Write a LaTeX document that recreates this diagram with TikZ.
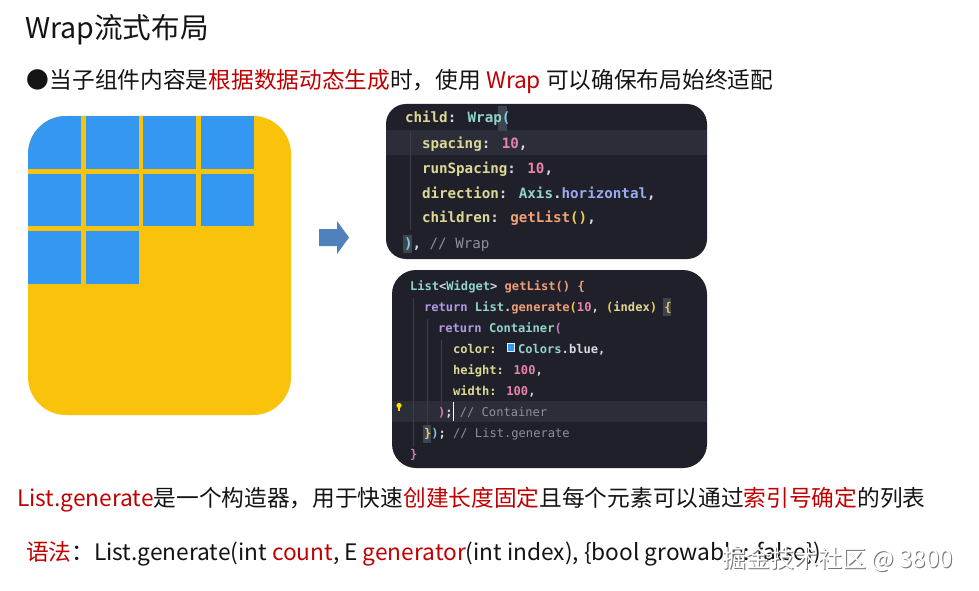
\documentclass[tikz,border=0pt]{standalone}
\usepackage{fontspec}
\setmainfont{Noto Sans CJK SC}
\newfontfamily\codefont{DejaVu Sans Mono}
\definecolor{redtxt}{HTML}{C00000}
\definecolor{boxyellow}{HTML}{F9C20B}
\definecolor{sqblue}{HTML}{3497F2}
\definecolor{arrowblue}{HTML}{4F81BD}
\definecolor{codebg}{HTML}{1F2029}
\definecolor{hlrow}{HTML}{2B2D38}
\definecolor{brbox}{HTML}{3E4452}
\definecolor{guide}{HTML}{3A3D4A}
\definecolor{ckey}{HTML}{DED896}
\definecolor{cteal}{HTML}{92D4C8}
\definecolor{cnum}{HTML}{E684AA}
\definecolor{cwhite}{HTML}{D8DAE0}
\definecolor{cfn}{HTML}{F0A078}
\definecolor{cyel}{HTML}{EFCB5A}
\definecolor{cgray}{HTML}{8C919B}
\definecolor{cret}{HTML}{B49AE6}
\definecolor{cperi}{HTML}{9AAAF0}
\definecolor{cmag}{HTML}{D37AC2}
\definecolor{ccyan}{HTML}{7FC8E6}
\newcommand\rd[1]{\textcolor{redtxt}{#1}}
\newcommand\cKey[1]{\textcolor{ckey}{#1}}
\newcommand\cTy[1]{\textcolor{cteal}{#1}}
\newcommand\cNum[1]{\textcolor{cnum}{#1}}
\newcommand\cWh[1]{\textcolor{cwhite}{#1}}
\newcommand\cFn[1]{\textcolor{cfn}{#1}}
\newcommand\cYe[1]{\textcolor{cyel}{#1}}
\newcommand\cGr[1]{\textcolor{cgray}{\mdseries #1}}
\newcommand\cRet[1]{\textcolor{cret}{#1}}
\newcommand\cPe[1]{\textcolor{cperi}{#1}}
\newcommand\cMg[1]{\textcolor{cmag}{#1}}
\newcommand\cCy[1]{\textcolor{ccyan}{#1}}
\tikzset{
  txt/.style={anchor=base west, inner sep=0pt, outer sep=0pt},
  codeA/.style={txt, font=\codefont\bfseries\fontsize{14.2pt}{16pt}\selectfont},
  codeB/.style={txt, font=\codefont\bfseries\fontsize{12.1pt}{14pt}\selectfont},
  sq/.style={fill=sqblue},
  guideline/.style={draw=guide, line width=0.8pt},
}
\begin{document}
\begin{tikzpicture}[x=1pt, y=-1pt]
\useasboundingbox (0,0) rectangle (979,591);
\fill[white] (0,0) rectangle (979,591);

% title and bullet line
\node[txt, font=\fontsize{28.6pt}{32pt}\selectfont, text=black!92] (title) at (25,38.8) {Wrap流式布局};
\node[txt, font=\fontsize{22.7pt}{26pt}\selectfont, text=black!92] (bullet) at (27,88.6)
  {●当子组件内容是\rd{根据数据动态生成}时，使用 \rd{Wrap} 可以确保布局始终适配};

% yellow box with blue squares
\fill[boxyellow, rounded corners=38pt] (28,116) rectangle (291,415);
\begin{scope}
  \clip[rounded corners=38pt] (28,116) rectangle (291,415);
  \foreach \i in {0,1,2,3} {
    \fill[sq] (28+57.7*\i,116) rectangle ++(53,52.5);
    \fill[sq] (28+57.7*\i,173.7) rectangle ++(53,52.5);
  }
  \foreach \i in {0,1} {
    \fill[sq] (28+57.7*\i,231.4) rectangle ++(53,52.5);
  }
\end{scope}

% arrow
\fill[arrowblue] (319,229) -- (337,229) -- (337,221) -- (349,237.5) -- (337,254) -- (337,246) -- (319,246) -- cycle;

% code block 1
\fill[codebg, rounded corners=20pt] (386,104) rectangle (707,259);
\fill[hlrow] (386,130) rectangle (707,155);
\fill[brbox] (498,106) rectangle (507,131);
\fill[brbox] (403,235) rectangle (412,253);
\draw[guideline] (410,131) -- (410,230);
\node[codeA] (a1) at (405,123) {\cKey{child}\cWh{: }\cTy{Wrap}\cCy{(}};
\node[codeA] (a2) at (422,148) {\cKey{spacing}\cWh{: }\cNum{10}\cWh{,}};
\node[codeA] (a3) at (422,173) {\cKey{runSpacing}\cWh{: }\cNum{10}\cWh{,}};
\node[codeA] (a4) at (422,198) {\cKey{direction}\cWh{: }\cTy{Axis}\cWh{.}\cPe{horizontal}\cWh{,}};
\node[codeA] (a5) at (422,222) {\cKey{children}\cWh{: }\cFn{getList}\cYe{()}\cWh{,}};
\node[codeA] (a6) at (404,248) {\cCy{)}\cWh{, }\cGr{// Wrap}};

% code block 2
\fill[codebg, rounded corners=24pt] (392,270) rectangle (707,468);
\fill[hlrow] (392,401) rectangle (707,422);
\fill[brbox] (663,298) rectangle (671,316);
\fill[brbox] (423,425) rectangle (431,443);
\draw[guideline] (413,298) -- (413,447);
\draw[guideline] (427,319) -- (427,426);
\draw[guideline] (441,340) -- (441,405);
\node[codeB] (b1) at (410,290) {\cTy{List}\cWh{<}\cTy{Widget}\cWh{>} \cFn{getList()} \cFn{\{}};
\node[codeB] (b2) at (424,311) {\cRet{return} \cTy{List}\cWh{.}\cFn{generate}\cYe{(}\cNum{10}\cWh{, }\cYe{(}\cKey{index}\cYe{)} \cYe{\{}};
\node[codeB] (b3) at (438,332) {\cRet{return} \cTy{Container}\cMg{(}};
\node[codeB] (b4) at (453,353) {\cKey{color:}};
\fill[sqblue, draw=white!85!sqblue, line width=0.8pt] (507,343.5) rectangle (514.5,351.5);
\node[codeB] (b4b) at (518,353) {\cTy{Colors}\cWh{.blue,}};
\node[codeB] (b5) at (453,374) {\cKey{height:} \cNum{100}\cWh{,}};
\node[codeB] (b6) at (453,395) {\cKey{width:} \cNum{100}\cWh{,}};
\node[codeB] (b7) at (438,416) {\cMg{)}\cWh{;} \cGr{// Container}};
\draw[white, line width=1pt] (453.5,402) -- (453.5,421);
\fill[yellow!80!orange] (399,405.5) circle (2.6);
\fill[yellow!80!orange] (398,407) rectangle (400,410.5);
\node[codeB] (b8) at (424,437) {\cYe{\}}\cCy{)}\cWh{; }\cGr{// List.generate}};
\node[codeB] (b9) at (410,458) {\cMg{\}}};

% bottom text
\node[txt, font=\fontsize{22.7pt}{26pt}\selectfont, text=black!92] (line1) at (17,506.6)
  {\rd{List.generate}是一个构造器，用于快速\rd{创建长度固定}且每个元素可以通过\rd{索引号确定}的列表};
\node[txt, font=\fontsize{22.7pt}{26pt}\selectfont, text=black!92] (syntax) at (26,560.6)
  {\rd{语法}：List.generate(int \rd{count}, E \rd{generator}(int index), \{bool growable: false\})};

% watermark
\node[txt, font=\fontsize{24pt}{28pt}\selectfont, text=black!55] (wmshadow) at (723,568) {掘金技术社区 @ 3800};
\node[txt, font=\fontsize{24pt}{28pt}\selectfont, text=white] (wm) at (722,567) {掘金技术社区 @ 3800};
\end{tikzpicture}
\end{document}
